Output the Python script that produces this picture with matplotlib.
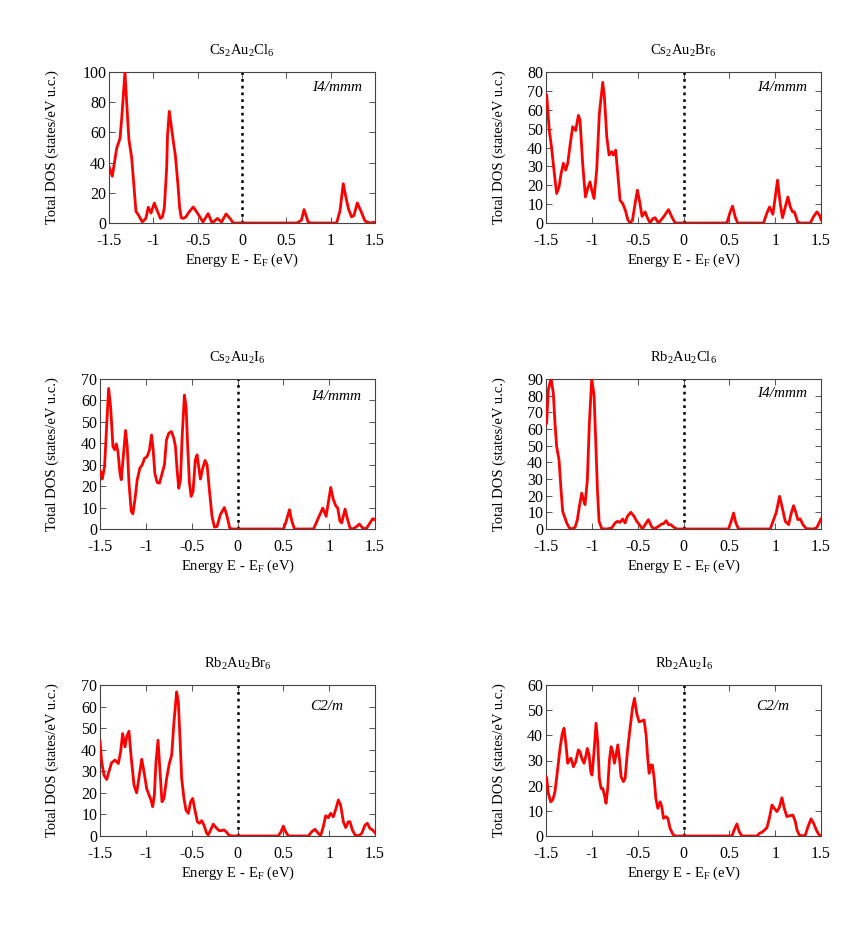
import matplotlib
matplotlib.use("Agg")
import matplotlib.pyplot as plt

plt.rcParams["font.family"] = ["Liberation Serif", "DejaVu Serif"]
plt.rcParams["mathtext.fontset"] = "custom"
plt.rcParams["mathtext.rm"] = "Liberation Serif"
plt.rcParams["mathtext.it"] = "Liberation Serif:italic"
plt.rcParams["axes.unicode_minus"] = False

# ---- data (energy in eV, DOS in states/eV u.c.) ----
e_cs_cl = [-1.5, -1.463, -1.413, -1.376, -1.357, -1.32, -1.29, -1.275, -1.244, -1.214,
           -1.196, -1.17, -1.125, -1.085, -1.057, -1.026, -0.989, -0.958, -0.92, -0.898,
           -0.876, -0.85, -0.84, -0.82, -0.797, -0.77, -0.752, -0.722, -0.703, -0.685,
           -0.664, -0.634, -0.597, -0.55, -0.507, -0.44, -0.382, -0.337, -0.277, -0.23,
           -0.18, -0.135, -0.098, 0.0, 0.62, 0.67, 0.70, 0.747, 0.785, 1.067, 1.105,
           1.142, 1.172, 1.2, 1.236, 1.263, 1.30, 1.338, 1.387, 1.443, 1.5]
dos_cs_cl = [37.5, 31, 49.6, 56, 69, 100, 69, 55, 43, 21,
             7.7, 5.5, 0.7, 3, 10.4, 6.6, 13.2, 8.4, 3, 4,
             10, 36, 58, 74, 64, 52, 45, 25, 10, 3.5,
             3, 4, 7.3, 10.6, 7, 0.7, 6.2, 0, 3, 0.7,
             6, 3, 0, 0, 0, 1.8, 8.9, 0.5, 0, 0, 8,
             26, 17, 9.5, 4, 5, 13.3, 8.4, 1.3, 0, 0.5]

e_cs_br = [-1.5, -1.493, -1.464, -1.438, -1.413, -1.384, -1.358, -1.336, -1.311, -1.285,
           -1.263, -1.238, -1.209, -1.176, -1.147, -1.129, -1.10, -1.07, -1.041, -1.02,
           -1.0, -0.976, -0.947, -0.918, -0.881, -0.863, -0.837, -0.812, -0.783, -0.765,
           -0.74, -0.717, -0.692, -0.663, -0.634, -0.608, -0.583, -0.557, -0.528, -0.503,
           -0.481, -0.452, -0.419, -0.394, -0.364, -0.335, -0.31, -0.273, -0.218, -0.164,
           -0.127, -0.091, 0.473, 0.51, 0.535, 0.564, 0.59, 0.873, 0.91, 0.939,
           0.975, 1.026, 1.055, 1.08, 1.11, 1.139, 1.165, 1.19, 1.21, 1.245,
           1.274, 1.383, 1.42, 1.456, 1.485, 1.5]
dos_cs_br = [68, 68, 49, 39.5, 28, 15.6, 19, 26, 31.6, 28,
             31.6, 41, 51, 49, 57, 54.6, 31.6, 13.8, 19, 21.8,
             17.4, 13, 28, 58, 74.5, 67, 45.7, 36, 37.8, 36,
             38.6, 26, 12, 10.3, 6.7, 1.8, 0, 1.4, 10.3, 17.4,
             12, 3.5, 5.9, 2.8, 0, 2.3, 2.8, 0, 3.2, 7.1,
             3.2, 0, 0, 5.9, 8.9, 3.2, 0, 0, 5.3, 8.5,
             4.6, 22.7, 10.3, 2.8, 8.5, 13.8, 8.5, 5.9, 5.9, 0.5,
             0, 0, 3.5, 5.9, 4, 1.8]

e_cs_i = [-1.5, -1.493, -1.475, -1.45, -1.428, -1.406, -1.384, -1.359, -1.34, -1.322,
          -1.304, -1.282, -1.268, -1.246, -1.221, -1.203, -1.184, -1.159, -1.141, -1.119,
          -1.094, -1.065, -1.039, -1.014, -0.985, -0.96, -0.938, -0.92, -0.902, -0.876,
          -0.851, -0.822, -0.797, -0.775, -0.75, -0.721, -0.695, -0.677, -0.659, -0.641,
          -0.622, -0.604, -0.579, -0.561, -0.542, -0.524, -0.506, -0.485, -0.46, -0.441,
          -0.423, -0.405, -0.379, -0.354, -0.332, -0.307, -0.278, -0.252, -0.223, -0.187,
          -0.143, -0.114, -0.085, -0.06, 0.502, 0.531, 0.567, 0.593, 0.622, 0.829,
          0.858, 0.89, 0.93, 0.967, 1.017, 1.046, 1.071, 1.093, 1.118, 1.137,
          1.173, 1.202, 1.227, 1.256, 1.293, 1.329, 1.365, 1.402, 1.445, 1.475, 1.5]
dos_cs_i = [27, 26.9, 23.3, 29.2, 47.8, 65.6, 57, 38.5, 37, 39.7,
            36, 26, 23, 33.8, 46, 38.5, 21.4, 8.2, 7.1, 13.7,
            23, 28.4, 30, 33, 33.8, 37, 43.9, 37, 26, 21.7,
            21.4, 26, 30, 41.6, 44.7, 45.5, 42.4, 38.5, 27.6, 19,
            23, 43, 62.5, 57, 37, 21.4, 15.2, 17.5, 32.3, 34.6,
            29, 23.3, 28.4, 32, 30, 18.3, 5.9, 0.9, 1.2, 6.7,
            10, 5.9, 0.5, 0, 0, 3.6, 9, 3.6, 0, 0,
            2.8, 5.9, 9.8, 5.9, 19.4, 13.7, 10.9, 9.8, 3.6, 2.8,
            9.3, 4.3, 0.5, 0, 0.9, 2.3, 0.5, 0, 2.8, 4.8, 4.3]

e_rb_cl = [-1.5, -1.493, -1.475, -1.445, -1.42, -1.402, -1.384, -1.358, -1.336, -1.318,
           -1.293, -1.274, -1.245, -1.22, -1.183, -1.158, -1.136, -1.11, -1.092, -1.074,
           -1.049, -1.027, -1.001, -0.976, -0.958, -0.939, -0.921, -0.892, -0.837, -0.783,
           -0.746, -0.721, -0.692, -0.663, -0.637, -0.612, -0.575, -0.539, -0.51, -0.481,
           -0.448, -0.419, -0.383, -0.346, -0.32, -0.273, -0.237, -0.218, -0.189, -0.164,
           -0.138, -0.109, -0.073, 0.491, 0.52, 0.546, 0.571, 0.601, 0.946, 0.983,
           1.012, 1.048, 1.074, 1.11, 1.147, 1.176, 1.201, 1.227, 1.248, 1.274,
           1.303, 1.34, 1.42, 1.456, 1.5]
dos_rb_cl = [63, 63.5, 83.4, 90.4, 81.4, 63.5, 49.5, 41.5, 23.5, 10.6,
             6.6, 3.6, 0.6, 0, 1, 5.6, 13.6, 21.5, 17.6, 14.6,
             29.5, 63.5, 90, 80.4, 53.5, 23.5, 4.6, 0.2, 0, 0.6,
             3.6, 4.6, 4, 6, 3.6, 7.6, 10, 7.6, 4.6, 2.6,
             0, 2.6, 5.6, 1.2, 0, 1.6, 3, 3.2, 5, 2.6,
             2.6, 1.2, 0, 0, 4.6, 9.6, 3.6, 0, 0, 5.6,
             10, 19.6, 13.6, 4.6, 2.6, 9.6, 14, 9.6, 5.6, 6,
             2.6, 0.2, 0, 1, 6]

e_rb_br = [-1.5, -1.482, -1.456, -1.427, -1.398, -1.373, -1.336, -1.3, -1.275, -1.253,
           -1.227, -1.209, -1.184, -1.162, -1.129, -1.1, -1.071, -1.045, -1.02, -0.991,
           -0.965, -0.944, -0.925, -0.907, -0.889, -0.867, -0.845, -0.824, -0.802, -0.773,
           -0.744, -0.718, -0.693, -0.664, -0.645, -0.627, -0.609, -0.584, -0.562, -0.536,
           -0.511, -0.489, -0.464, -0.438, -0.416, -0.391, -0.365, -0.336, -0.318, -0.293,
           -0.264, -0.235, -0.202, -0.173, -0.147, -0.118, -0.089, -0.045, 0.445, 0.475,
           0.5, 0.525, 0.555, 0.773, 0.809, 0.845, 0.882, 0.907, 0.936, 0.962,
           0.991, 1.016, 1.045, 1.075, 1.1, 1.125, 1.155, 1.18, 1.209, 1.227,
           1.253, 1.282, 1.318, 1.355, 1.391, 1.416, 1.445, 1.475, 1.5]
dos_rb_br = [44, 34.4, 28.2, 26.2, 30.5, 34, 35.2, 33.6, 39, 47.5,
             41.3, 46, 48.6, 37.5, 23.6, 20, 28.2, 35.6, 29.8, 22,
             19, 16.7, 13.6, 19, 34.4, 44.4, 29.8, 15.9, 17.4, 26.7,
             33.6, 37.5, 52.9, 66.8, 62, 45, 26.7, 17.4, 12, 10.5,
             15.9, 17.4, 12, 6.6, 5.9, 7.1, 5, 1.2, 0.5, 2.8,
             5.5, 3.9, 2.5, 2.5, 2.8, 1.7, 0.2, 0, 0, 2,
             4.6, 2, 0, 0, 2, 3.1, 1.2, 0.2, 4.3, 9.4,
             8.5, 10.5, 8.9, 12.8, 16.7, 14.3, 6.6, 3.9, 6.6, 6.6,
             2.8, 0.5, 0, 1.2, 5, 5.9, 3.5, 2.8, 1.5]

e_rb_i = [-1.5, -1.493, -1.475, -1.449, -1.427, -1.402, -1.376, -1.347, -1.322, -1.303,
          -1.282, -1.263, -1.245, -1.227, -1.201, -1.176, -1.147, -1.129, -1.11, -1.085,
          -1.067, -1.049, -1.03, -1.012, -0.998, -0.976, -0.954, -0.936, -0.918, -0.899,
          -0.881, -0.863, -0.845, -0.827, -0.808, -0.79, -0.772, -0.754, -0.736, -0.717,
          -0.699, -0.681, -0.655, -0.637, -0.612, -0.583, -0.557, -0.535, -0.51, -0.485,
          -0.456, -0.43, -0.408, -0.39, -0.375, -0.357, -0.339, -0.32, -0.302, -0.28,
          -0.255, -0.237, -0.218, -0.189, -0.171, -0.146, -0.116, -0.091, 0.528, 0.553,
          0.583, 0.608, 0.637, 0.801, 0.83, 0.856, 0.885, 0.91, 0.936, 0.965,
          0.99, 1.019, 1.045, 1.074, 1.099, 1.128, 1.165, 1.194, 1.22, 1.238,
          1.263, 1.3, 1.329, 1.358, 1.391, 1.42, 1.449, 1.474, 1.5]
dos_rb_i = [23.5, 23.2, 17, 13.6, 14.3, 17.6, 25.6, 34.8, 40.8, 42.8,
            36.2, 28.9, 30.2, 30.9, 27.5, 29.5, 34.2, 33.5, 30.9, 28.9,
            31.5, 34.8, 32.2, 25.6, 24.2, 33.5, 44.8, 37.5, 22.9, 18.9,
            18.9, 16.3, 13, 18.9, 30.2, 35.5, 33.5, 28.9, 32.2, 36.2,
            30.9, 23.6, 21.6, 22.9, 33.5, 42.8, 50.7, 54.7, 48.7, 45.4,
            45.7, 46.1, 40.1, 30.9, 24.9, 28.2, 28.2, 22.9, 15, 11,
            13.6, 11.7, 7, 7.7, 7, 3, 0.7, 0, 0, 2.4,
            4.8, 1.7, 0, 0, 1.1, 1.5, 2.4, 3.3, 7, 12.3,
            11, 9.7, 11.3, 15.2, 11, 7.7, 8.1, 8.3, 5.7, 2.4,
            0.4, 0, 0.4, 3.7, 6.8, 5, 2.4, 0.7, 0]

titles = ["Cs$_2$Au$_2$Cl$_6$", "Cs$_2$Au$_2$Br$_6$", "Cs$_2$Au$_2$I$_6$",
          "Rb$_2$Au$_2$Cl$_6$", "Rb$_2$Au$_2$Br$_6$", "Rb$_2$Au$_2$I$_6$"]
groups = ["I4/mmm", "I4/mmm", "I4/mmm", "I4/mmm", "C2/m", "C2/m"]
energies = [e_cs_cl, e_cs_br, e_cs_i, e_rb_cl, e_rb_br, e_rb_i]
dos = [dos_cs_cl, dos_cs_br, dos_cs_i, dos_rb_cl, dos_rb_br, dos_rb_i]
ymax = [100, 80, 70, 90, 70, 60]
ystep = [20, 10, 10, 10, 10, 10]
xticks = [-1.5, -1.0, -0.5, 0.0, 0.5, 1.0, 1.5]
xticklabels = ["-1.5", "-1", "-0.5", "0", "0.5", "1", "1.5"]

W, H = 865, 927
fig = plt.figure(figsize=(W / 100, H / 100), dpi=100)

# axes boxes in pixels: left, top, right, bottom
boxes = [(109, 72, 375, 223), (546, 72, 821, 223),
         (100, 379, 375, 529), (546, 379, 821, 529),
         (100, 685, 375, 836), (546, 685, 821, 836)]
group_x = [0.95, 0.95, 0.95, 0.95, 0.885, 0.885]
group_y = [0.895, 0.895, 0.885, 0.905, 0.86, 0.86]

for i, (l, t, r, b) in enumerate(boxes):
    ax = fig.add_axes([l / W, 1 - b / H, (r - l) / W, (b - t) / H])
    ax.plot(energies[i], dos[i], color="#ff0000", lw=2.0, zorder=3,
            solid_joinstyle="round")
    ax.axvline(0, color="black", lw=1.8, ls=(0, (1.1, 1.6)), zorder=2)
    ax.set_xlim(-1.5, 1.5)
    ax.set_ylim(0, ymax[i])
    ax.set_xticks(xticks)
    ax.set_xticklabels(xticklabels)
    ax.set_yticks(range(0, ymax[i] + 1, ystep[i]))
    ax.tick_params(direction="in", top=True, right=True, length=4, width=0.7,
                   color="#555555", labelsize=11.5)
    ax.tick_params(axis="x", pad=7.5)
    ax.tick_params(axis="y", pad=2)
    for s in ax.spines.values():
        s.set_color("#444444")
        s.set_linewidth(0.8)

    ax.text(0.5, 1 + 21 / (b - t), titles[i], transform=ax.transAxes,
            ha="center", va="center", fontsize=10.5)
    ax.text(group_x[i], group_y[i], groups[i], transform=ax.transAxes,
            ha="right", va="center", fontsize=11, style="italic")
    ax.set_xlabel("Energy E - E$_\\mathrm{F}$ (eV)", fontsize=10.5)
    ax.xaxis.set_label_coords(0.5, -29 / (b - t))
    ax.set_ylabel("Total DOS (states/eV u.c.)", fontsize=10.5)
    xl = 506 if l > 400 else 59
    ax.yaxis.set_label_coords((xl - l) / (r - l), 0.5)

fig.savefig("out.png", dpi=100)
